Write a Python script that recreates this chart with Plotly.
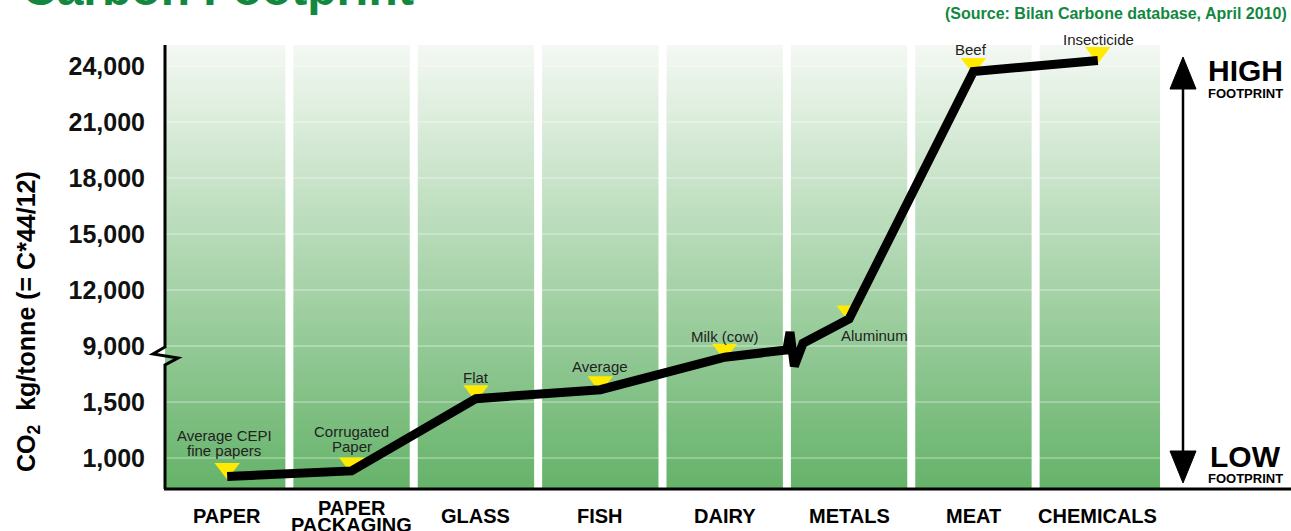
import numpy as np
import plotly.graph_objects as go

# ---------------- data ----------------
CATEGORIES = ["PAPER", "PAPER\nPACKAGING", "GLASS", "FISH", "DAIRY", "METALS", "MEAT", "CHEMICALS"]
ITEMS = ["Average CEPI\nfine papers", "Corrugated\nPaper", "Flat", "Average",
         "Milk (cow)", "Aluminum", "Beef", "Insecticide"]
CO2_KG_PER_TONNE = [835, 885, 1530, 1610, 1900, 10450, 23700, 24300]
Y_TICKS = [1000, 1500, 9000, 12000, 15000, 18000, 21000, 24000]

TITLE = "Carbon Footprint"
SOURCE = "(Source: Bilan Carbone database, April 2010)"
Y_TITLE = "CO<sub>2</sub>  kg/tonne (= C*44/12)"

# ---------------- broken-axis scale ----------------
# lower segment: 1,000 -> 1 , 1,500 -> 2 (500 per unit)
# upper segment: 9,000 -> 3 , 3,000 per unit
def to_u(v):
    if v < 5000:
        return 1 + (v - 1000) / 500.0
    return 3 + (v - 9000) / 3000.0

# ---------------- layout geometry ----------------
FIG_W, FIG_H = 1291, 531
L, T, W, H = 165, 45, 995, 444
U_BOTTOM = 1 - 31 / 56.0
U_TOP = 1 + 413 / 56.0
PX_PER_U = H / (U_TOP - U_BOTTOM)


def xp(px):
    return (px - L) / W


def yp(py):
    return (T + H - py) / H


GREEN_DARK = "#66b36a"
GREEN_LIGHT = "#f3f8f2"
TITLE_GREEN = "#12883f"
FONT = "Liberation Sans, Arial, Helvetica, sans-serif"

fig = go.Figure()

# gradient background of the columns
N = 120
fig.add_trace(go.Heatmap(
    x=[-0.5, len(CATEGORIES) - 0.5],
    y=np.linspace(U_BOTTOM, U_TOP, N + 1),
    z=[[i / (N - 1)] for i in range(N)],
    colorscale=[[0, GREEN_DARK], [1, GREEN_LIGHT]],
    zmin=0, zmax=1, showscale=False, hoverinfo="skip",
))

# faint gridlines at tick levels
for v in Y_TICKS:
    fig.add_trace(go.Scatter(
        x=[-0.5, len(CATEGORIES) - 0.5], y=[to_u(v), to_u(v)], mode="lines",
        line=dict(color="rgba(255,255,255,0.55)", width=1.2), hoverinfo="skip",
    ))

# white column separators
for i in range(len(CATEGORIES) - 1):
    fig.add_trace(go.Scatter(
        x=[i + 0.5, i + 0.5], y=[U_BOTTOM, U_TOP], mode="lines",
        line=dict(color="white", width=8), hoverinfo="skip",
    ))

# yellow markers (tip touching the line)
tri_off = 8 / PX_PER_U
fig.add_trace(go.Scatter(
    x=list(range(len(CATEGORIES))),
    y=[to_u(v) + tri_off for v in CO2_KG_PER_TONNE],
    mode="markers",
    marker=dict(symbol="triangle-down", size=22, color="#ffea00", line=dict(width=0)),
    hoverinfo="skip",
))

# black line with the break zig-zag between DAIRY and METALS
BREAK_DX = [0.5, 0.525, 0.56, 0.63]
BREAK_DU = [0.13, 0.45, -0.16, 0.25]
lower = [(i, to_u(v)) for i, v in enumerate(CO2_KG_PER_TONNE) if v < 5000]
upper = [(i, to_u(v)) for i, v in enumerate(CO2_KG_PER_TONNE) if v >= 5000]
bx0, bu0 = lower[-1]
zig = [(bx0 + dx, bu0 + du) for dx, du in zip(BREAK_DX, BREAK_DU)]
pts = lower + zig + upper
fig.add_trace(go.Scatter(
    x=[p[0] for p in pts], y=[p[1] for p in pts], mode="lines",
    line=dict(color="black", width=9), hoverinfo="skip",
))

annotations = []

# point labels
LABEL_SHIFT = [(-3, 41, 15), (0, 39, 15), (0, 21, 15), (0, 23, 15),
               (0, 21, 15), (25, -17, 15), (-2, 22, 15), (1, 21, 15)]
for i, (txt, v) in enumerate(zip(ITEMS, CO2_KG_PER_TONNE)):
    dx, dy, step = LABEL_SHIFT[i]
    for k, line in enumerate(txt.split("\n")):
        annotations.append(dict(
            x=i, y=to_u(v), xref="x", yref="y", text=line, showarrow=False,
            xshift=dx, yshift=dy - k * step, xanchor="center", yanchor="middle",
            font=dict(family=FONT, size=15, color="#222222"),
        ))

# category labels
for i, cat in enumerate(CATEGORIES):
    lines = cat.split("\n")
    n = len(lines)
    for k, line in enumerate(lines):
        cy = 516 + (k - (n - 1) / 2) * 17
        annotations.append(dict(
            x=i, y=yp(cy), xref="x", yref="paper", text=line, showarrow=False,
            xanchor="center", yanchor="middle",
            font=dict(family=FONT, size=20, color="black", weight="bold"),
        ))

# y-axis title
annotations.append(dict(
    x=xp(28), y=yp(322), xref="paper", yref="paper", text=Y_TITLE, showarrow=False,
    textangle=-90, xanchor="center", yanchor="middle",
    font=dict(family=FONT, size=25, color="black", weight="bold"),
))

# title (cut off at the top) and source
annotations.append(dict(
    x=xp(20), y=yp(-12), xref="paper", yref="paper", text=TITLE, showarrow=False,
    xanchor="left", yanchor="middle",
    font=dict(family=FONT, size=48, color=TITLE_GREEN, weight="bold"),
))
annotations.append(dict(
    x=xp(1289), y=yp(13), xref="paper", yref="paper", text=SOURCE, showarrow=False,
    xanchor="right", yanchor="middle",
    font=dict(family=FONT, size=16, color=TITLE_GREEN, weight="bold"),
))

# HIGH / LOW footprint
for txt, cy, size in [("HIGH", 71, 30), ("FOOTPRINT", 93.5, 13),
                      ("LOW", 456.5, 30), ("FOOTPRINT", 478.5, 13)]:
    annotations.append(dict(
        x=xp(1245), y=yp(cy), xref="paper", yref="paper", text=txt, showarrow=False,
        xanchor="center", yanchor="middle",
        font=dict(family=FONT, size=size, color="black", weight="bold"),
    ))

shapes = []
# left axis with break mark
path = "M {},{} L {},{} L {},{} L {},{} L {},{} L {},{}".format(
    xp(165), yp(45), xp(165), yp(347), xp(153), yp(354),
    xp(178), yp(358), xp(165), yp(365), xp(165), yp(489))
shapes.append(dict(type="path", path=path, xref="paper", yref="paper",
                   line=dict(color="black", width=3)))
# bottom axis line
shapes.append(dict(type="line", xref="paper", yref="paper", x0=xp(164), x1=xp(1291),
                   y0=yp(489), y1=yp(489), line=dict(color="black", width=3)))
# double arrow
shapes.append(dict(type="line", xref="paper", yref="paper", x0=xp(1183), x1=xp(1183),
                   y0=yp(85), y1=yp(455), line=dict(color="black", width=2.5)))
for tip, base in [(57, 89), (483, 451)]:
    p = "M {},{} L {},{} L {},{} Z".format(xp(1183), yp(tip), xp(1170), yp(base),
                                           xp(1196), yp(base))
    shapes.append(dict(type="path", path=p, xref="paper", yref="paper",
                       fillcolor="black", line=dict(color="black", width=1)))

fig.update_layout(
    width=FIG_W, height=FIG_H,
    margin=dict(l=L, r=FIG_W - L - W, t=T, b=FIG_H - T - H),
    paper_bgcolor="white", plot_bgcolor="white",
    showlegend=False,
    font=dict(family=FONT),
    xaxis=dict(range=[-0.5, len(CATEGORIES) - 0.5], showticklabels=False,
               showgrid=False, zeroline=False, showline=False, ticks=""),
    yaxis=dict(range=[U_BOTTOM, U_TOP],
               tickvals=[to_u(v) for v in Y_TICKS],
               ticktext=[f"{v:,}" for v in Y_TICKS],
               tickfont=dict(family=FONT, size=25, color="#111111", weight="bold"),
               ticks="outside", ticklen=14, tickcolor="rgba(0,0,0,0)",
               showgrid=False, zeroline=False, showline=False),
    annotations=annotations,
    shapes=shapes,
)

fig.write_html("out.html", config={"displayModeBar": False},
               post_script="document.body.style.margin='0px';")
